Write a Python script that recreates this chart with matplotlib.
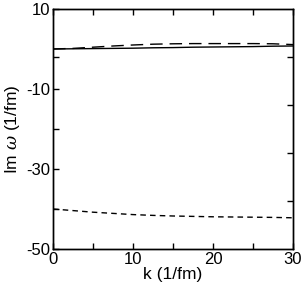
import numpy as np
import matplotlib.pyplot as plt

plt.rcParams['font.family'] = ['Liberation Sans', 'DejaVu Sans']
plt.rcParams['axes.unicode_minus'] = False
plt.rcParams['mathtext.fontset'] = 'custom'
plt.rcParams['mathtext.it'] = 'DejaVu Serif:italic'

# data
k = [0, 2.5, 5, 7.5, 10, 12.5, 15, 17.5, 20, 22.5, 25, 27.5, 30]
solid = [0.0, 0.05, 0.1, 0.15, 0.2, 0.3, 0.35, 0.45, 0.5, 0.55, 0.6, 0.7, 0.75]
long_dash = [0.0, 0.15, 0.45, 0.75, 1.0, 1.2, 1.3, 1.35, 1.35, 1.35, 1.35, 1.3, 1.1]
short_dash = [-40.0, -40.4, -40.8, -41.1, -41.4, -41.6, -41.75, -41.85, -41.95, -42.0, -42.05, -42.1, -42.2]

fig = plt.figure(figsize=(3.03, 2.90), dpi=100)
ax = fig.add_axes([0.175, 0.1414, 0.792, 0.8276])

ax.plot(k, solid, color='black', lw=1.0, ls='-')
ax.plot(k, long_dash, color='black', lw=1.0, ls=(0, (9, 5)))
ax.plot(k, short_dash, color='black', lw=1.0, ls=(0, (4, 3)))

ax.set_xlim(0, 30)
ax.set_ylim(-50, 10)

ax.set_xticks([0, 10, 20, 30])
ax.set_xticks([5, 15, 25], minor=True)
ax.set_yticks([10, -10, -30, -50])
ax.set_yticks([-2, -20, -40], minor=True)

ax.tick_params(which='both', direction='in', top=True, right=False,
               labelsize=12, width=1.0, pad=2)
ax.tick_params(which='major', length=4)
ax.tick_params(which='minor', length=4)

# right side has its own evenly spaced ticks
ax2 = ax.twinx()
ax2.set_ylim(-50, 10)
ax2.set_yticks([-2, -14, -26, -38])
ax2.set_yticklabels([])
ax2.tick_params(direction='in', length=4, width=1.0)

for a in (ax, ax2):
    for s in a.spines.values():
        s.set_linewidth(1.0)

ax.set_xlabel('k (1/fm)', fontsize=12.5, labelpad=0)
ax.set_ylabel('Im $\\omega$ (1/fm)', fontsize=12.5, labelpad=3)

fig.savefig('out.png', dpi=100)
